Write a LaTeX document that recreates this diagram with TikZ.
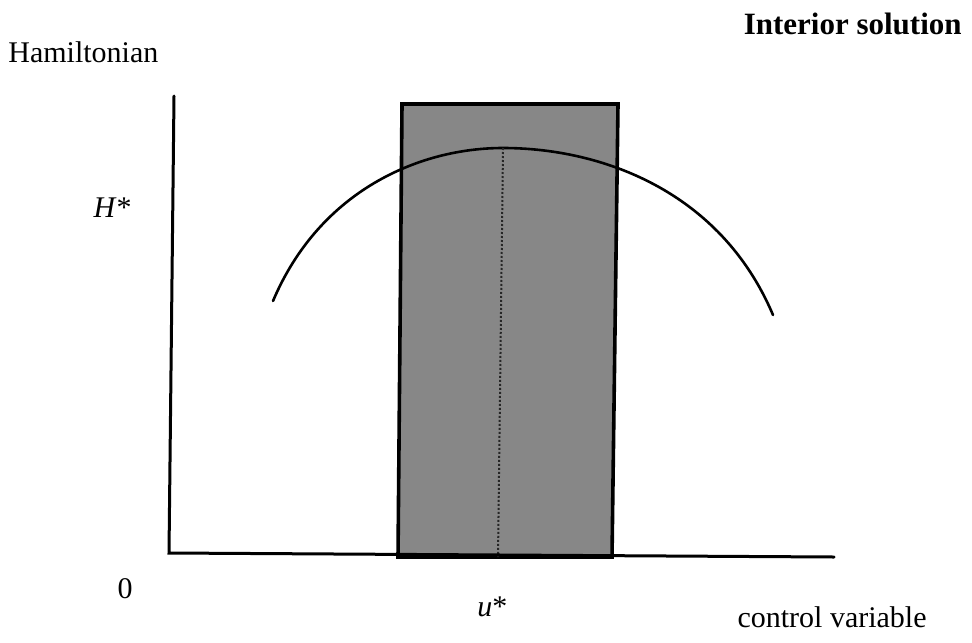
\documentclass[tikz,border=0pt]{standalone}
\usepackage{fontspec}
\setmainfont{Liberation Serif}
\usetikzlibrary{positioning}

\begin{document}
\begin{tikzpicture}[
 x=0.5pt, y=-0.5pt,
 axis/.style={line width=1.5pt, line cap=round, line join=miter},
 band/.style={draw, line width=1.8pt, fill=black!47},
 curve/.style={line width=1.3pt, line cap=round},
 peakline/.style={densely dotted, line width=1pt, black!85},
 lbl/.style={font=\fontsize{15}{18}\selectfont, inner sep=0pt},
 title/.style={font=\fontsize{15.5}{18}\selectfont\bfseries, inner sep=0pt}
]
\useasboundingbox (0,0) rectangle (972,642);

% axes
\coordinate (ytop) at (174,96);
\coordinate (origin) at (169,553);
\coordinate (xend) at (834,557);

% shaded band of admissible controls
\draw[band] (398,557) -- (402,104) -- (618,104) -- (612,557) -- cycle;

% Hamiltonian as a function of the control
\draw[curve] (273,301) coordinate (hleft)
  .. controls (320,190) and (420,148) .. (503,148) coordinate (peak)
  .. controls (600,148) and (720,190) .. (773,315) coordinate (hright);

\coordinate (ustar) at (498,557);
\draw[peakline] (peak) -- (ustar);

\draw[axis] (ytop) -- (origin) -- (xend);

% labels
\node[lbl, anchor=base west] (hamil) at (8,63) {Hamiltonian};
\node[title, anchor=base east] (interior) at (962,35) {Interior solution};
\node[lbl, anchor=base east] (hstar) at (132,217) {\textit{H}*};
\node[lbl, anchor=base] (zero) at (125,598) {0};
\node[lbl, anchor=base west] (ulabel) at (477,616) {\textit{u}*};
\node[lbl, anchor=base east] (control) at (927,627) {control variable};
\end{tikzpicture}
\end{document}
